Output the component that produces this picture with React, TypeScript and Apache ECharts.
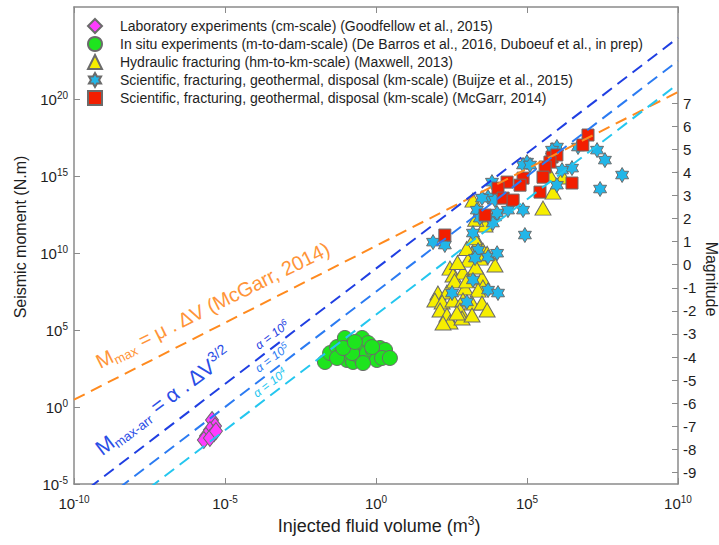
import React, { useEffect, useRef } from "react";
import * as echarts from "echarts";

const W = 719;
const H = 545;
const FONT = "Liberation Sans, Arial, sans-serif";

// All values are log10: volume in m^3, seismic moment in N.m
const labLogV = [-5.43, -5.33, -5.5, -5.63, -5.36, -5.7, -5.5, -5.3];
const labLogM = [-0.84, -1.23, -1.49, -1.88, -1.69, -2.14, -2.01, -1.56];

const insituLogV = [-1.69, -1.52, -1.29, -1.03, -0.46, -0.26, -0.86, -0.63, -1.13, -0.96, -0.76, -0.53, -0.3, -0.1, 0.13, 0.3, 0.03, 0.2, 0.46, -0.43, -1.29, -0.79, -0.13, -1.09, -0.7];
const insituLogM = [2.93, 3.51, 3.9, 4.49, 4.49, 4.16, 3.9, 3.71, 3.38, 3.06, 2.93, 3.25, 3.51, 3.71, 3.84, 3.71, 3.06, 3.19, 3.19, 2.86, 3.19, 3.51, 3.9, 3.84, 4.23];

const hfLogV = [3.61, 3.38, 3.54, 3.68, 3.44, 3.94, 3.05, 2.45, 2.55, 2.88, 3.18, 3.51, 3.54, 2.95, 3.38, 2.05, 2.35, 1.95, 2.19, 2.55, 2.88, 3.18, 3.51, 3.68, 2.78, 2.12, 2.35, 2.45, 2.22, 2.85, 3.18, 2.68, 5.53, 5.86, 6.19, 5.76, 3.21, 2.7, 3.0, 3.25, 3.3, 2.6, 3.0, 3.3];
const hfLogM = [11.83, 10.66, 10.2, 10.0, 9.68, 9.23, 9.55, 9.03, 8.58, 8.77, 8.45, 8.39, 7.8, 7.74, 7.6, 7.41, 7.48, 6.96, 6.83, 6.96, 6.96, 6.76, 6.76, 6.31, 6.31, 6.31, 5.98, 5.53, 5.46, 5.79, 5.98, 6.11, 12.93, 13.97, 14.95, 15.08, 13.45, 9.4, 10.3, 11.0, 12.2, 8.2, 8.2, 9.1];

const buijzeLogV = [5.99, 7.32, 7.58, 8.15, 7.42, 6.49, 6.16, 5.99, 5.0, 4.87, 5.1, 5.83, 3.71, 3.51, 3.34, 3.94, 4.37, 4.87, 3.94, 3.84, 3.44, 6.69, 3.87, 1.89, 2.28, 3.21, 4.01, 4.93, 3.38, 3.28, 3.71, 4.01, 3.21, 3.71, 4.04, 2.52, 3.01];
const buijzeLogM = [16.9, 16.7, 16.05, 15.08, 14.17, 15.53, 15.4, 14.42, 15.92, 15.73, 15.73, 16.7, 13.65, 13.58, 12.8, 13.45, 12.8, 12.8, 12.35, 14.62, 12.28, 16.9, 11.96, 10.72, 10.53, 11.31, 12.61, 11.18, 10.2, 9.68, 9.75, 10.0, 8.26, 7.6, 7.41, 7.41, 6.83];

const mcgarrLogV = [7.02, 6.85, 5.83, 5.99, 5.76, 5.6, 5.53, 6.49, 4.34, 4.87, 4.77, 4.04, 4.21, 4.54, 5.43, 3.61, 2.28];
const mcgarrLogM = [17.68, 17.03, 16.25, 16.38, 15.92, 15.6, 14.94, 14.56, 14.62, 14.88, 14.42, 14.23, 13.58, 13.45, 13.97, 12.48, 11.18];

// Bounds
const SHEAR_MODULUS = 3e10; // Pa
const ALPHA_EXPONENTS = [6, 5, 4];
const ALPHA_COLORS = ["#1f3fe2", "#2b7bf2", "#24c6ef"];

// Axis ticks
const xTickExps = [-10, -5, 0, 5, 10];
const yTickExps = [-5, 0, 5, 10, 15, 20];
const magTicks = [-9, -8, -7, -6, -5, -4, -3, -2, -1, 0, 1, 2, 3, 4, 5, 6, 7];

// Mw = 2/3 (log10 M0 - 9.25)
const MW_OFFSET = 9.25;
const Y_MIN = -5;
const Y_MAX = 26;

const legendNames = [
  "Laboratory experiments (cm-scale) (Goodfellow et al., 2015)",
  "In situ experiments (m-to-dam-scale) (De Barros et al., 2016, Duboeuf et al., in prep)",
  "Hydraulic fracturing (hm-to-km-scale) (Maxwell, 2013)",
  "Scientific, fracturing, geothermal, disposal (km-scale) (Buijze et al., 2015)",
  "Scientific, fracturing, geothermal, disposal (km-scale) (McGarr, 2014)",
];

const HEXAGRAM =
  "path://M0,-10L2.887,-5L8.66,-5L5.774,0L8.66,5L2.887,5L0,10L-2.887,5L-8.66,5L-5.774,0L-8.66,-5L-2.887,-5Z";

const EDGE = "#6b6b6b";
const AXIS_COLOR = "#8a8a8a";
const TEXT = "#1e1e1e";

const zip = (a: number[], b: number[]) => a.map((v, i) => [v, b[i]]);

const powRich = {
  b: { fontSize: 15, fontFamily: FONT, color: TEXT, lineHeight: 18 },
  s: { fontSize: 10, fontFamily: FONT, color: TEXT, verticalAlign: "top", lineHeight: 10 },
};
const powLabel = (v: number) => `{b|10}{s|${v}}`;

export default function App() {
  const ref = useRef<HTMLDivElement>(null);

  useEffect(() => {
    if (!ref.current) return;
    const chart = echarts.init(ref.current, null, { renderer: "svg", width: W, height: H });

    const scatterBase = (name: string, symbol: string, size: any, color: string, lv: number[], lm: number[], z: number) => ({
      name,
      type: "scatter",
      symbol,
      symbolSize: size,
      symbolKeepAspect: true,
      data: zip(lv, lm),
      itemStyle: { color, borderColor: EDGE, borderWidth: 1, opacity: 1 },
      z,
      silent: true,
    });

    const orangeLine = {
      name: "mcgarr-bound",
      type: "line",
      data: [
        [-10, -10 + Math.log10(SHEAR_MODULUS)],
        [10, 10 + Math.log10(SHEAR_MODULUS)],
      ],
      symbol: "none",
      lineStyle: { color: "#ff8a1e", width: 2, type: [12, 7] },
      z: 10,
      silent: true,
      clip: true,
    };

    const alphaLines = ALPHA_EXPONENTS.map((a, i) => ({
      name: `alpha-${a}`,
      type: "line",
      data: [
        [-10, 1.5 * (a - 10)],
        [10, 1.5 * (a + 10)],
      ],
      symbol: "none",
      lineStyle: { color: ALPHA_COLORS[i], width: 2, type: [12, 7] },
      z: 10,
      silent: true,
      clip: true,
    }));

    const alphaLabelPos = [
      [272, 335],
      [272, 358],
      [270, 383],
    ];

    const axisLineStyle = { color: AXIS_COLOR, width: 1.5 };

    const option: any = {
      animation: false,
      backgroundColor: "#ffffff",
      textStyle: { fontFamily: FONT },
      grid: { left: 74, right: 41, top: 7, bottom: 61, containLabel: false },
      legend: {
        orient: "vertical",
        left: 82,
        top: 13,
        itemWidth: 14,
        itemHeight: 14,
        itemGap: 2,
        data: legendNames,
        textStyle: { fontSize: 14, color: TEXT, fontFamily: FONT, lineHeight: 16, padding: [0, 0, 0, 13] },
        selectedMode: false,
      },
      xAxis: [
        {
          type: "value",
          min: -10,
          max: 10,
          interval: 5,
          position: "bottom",
          axisLine: { show: true, onZero: false, lineStyle: axisLineStyle },
          axisTick: { show: true, inside: true, length: 6, lineStyle: { color: AXIS_COLOR } },
          axisLabel: {
            customValues: xTickExps,
            formatter: powLabel,
            rich: powRich,
            margin: 10,
          },
          splitLine: { show: false },
        },
        {
          type: "value",
          min: -10,
          max: 10,
          interval: 5,
          position: "top",
          axisLine: { show: true, onZero: false, lineStyle: axisLineStyle },
          axisTick: { show: true, inside: true, length: 6, lineStyle: { color: AXIS_COLOR } },
          axisLabel: { show: false },
          splitLine: { show: false },
        },
      ],
      yAxis: [
        {
          type: "value",
          min: Y_MIN,
          max: Y_MAX,
          position: "left",
          axisLine: { show: true, onZero: false, lineStyle: axisLineStyle },
          axisTick: { show: true, inside: true, length: 6, customValues: yTickExps, lineStyle: { color: AXIS_COLOR } },
          axisLabel: {
            customValues: yTickExps,
            formatter: powLabel,
            rich: powRich,
            margin: 6,
          },
          splitLine: { show: false },
        },
        {
          type: "value",
          min: (2 / 3) * (Y_MIN - MW_OFFSET),
          max: (2 / 3) * (Y_MAX - MW_OFFSET),
          position: "right",
          axisLine: { show: true, onZero: false, lineStyle: axisLineStyle },
          axisTick: { show: true, inside: true, length: 6, customValues: magTicks, lineStyle: { color: AXIS_COLOR } },
          axisLabel: {
            customValues: magTicks,
            formatter: (v: number) => String(v),
            fontSize: 15,
            color: TEXT,
            fontFamily: FONT,
            margin: 5,
          },
          splitLine: { show: false },
        },
      ],
      series: [
        scatterBase(legendNames[0], "diamond", [13, 17], "#ff3cff", labLogV, labLogM, 2),
        scatterBase(legendNames[1], "circle", 15, "#1ee41e", insituLogV, insituLogM, 3),
        scatterBase(legendNames[2], "triangle", [16, 14], "#f6ee00", hfLogV, hfLogM, 4),
        scatterBase(legendNames[3], HEXAGRAM, 15, "#22b6e8", buijzeLogV, buijzeLogM, 5),
        scatterBase(legendNames[4], "rect", 12, "#f21e00", mcgarrLogV, mcgarrLogM, 6),
        orangeLine,
        ...alphaLines,
      ],
      graphic: [
        {
          type: "text",
          x: 379,
          y: 526,
          style: {
            text: "{t|Injected fluid volume (m}{s|3}{t|)}",
            align: "center",
            verticalAlign: "middle",
            rich: {
              t: { fontSize: 18, fontFamily: FONT, fill: TEXT, lineHeight: 22 },
              s: { fontSize: 12, fontFamily: FONT, fill: TEXT, verticalAlign: "top", lineHeight: 12 },
            },
          },
        },
        {
          type: "text",
          x: 20,
          y: 237,
          rotation: Math.PI / 2,
          style: {
            text: "Seismic moment (N.m)",
            align: "center",
            verticalAlign: "middle",
            fontSize: 16,
            fontFamily: FONT,
            fill: TEXT,
          },
        },
        {
          type: "text",
          x: 711,
          y: 279,
          rotation: -Math.PI / 2,
          style: {
            text: "Magnitude",
            align: "center",
            verticalAlign: "middle",
            fontSize: 16,
            fontFamily: FONT,
            fill: TEXT,
          },
        },
        {
          type: "text",
          x: 213,
          y: 305,
          rotation: (26.5 * Math.PI) / 180,
          z: 20,
          style: {
            text: "{m|M}{sub|max}{t| = μ . ΔV (McGarr, 2014)}",
            align: "center",
            verticalAlign: "middle",
            rich: {
              m: { fontSize: 20, fontFamily: FONT, fill: "#ff9438", lineHeight: 25 },
              sub: { fontSize: 13, fontFamily: FONT, fill: "#ff9438", verticalAlign: "bottom", lineHeight: 13 },
              t: { fontSize: 20, fontFamily: FONT, fill: "#ff9438", lineHeight: 25 },
            },
          },
        },
        {
          type: "text",
          x: 163,
          y: 401,
          rotation: (37 * Math.PI) / 180,
          z: 20,
          style: {
            text: "{m|M}{sub|max-arr}{t| = α . ΔV}{sup|3/2}",
            align: "center",
            verticalAlign: "middle",
            rich: {
              m: { fontSize: 21, fontFamily: FONT, fill: "#2a4ee6", lineHeight: 26 },
              sub: { fontSize: 13, fontFamily: FONT, fill: "#2a4ee6", verticalAlign: "bottom", lineHeight: 13 },
              t: { fontSize: 21, fontFamily: FONT, fill: "#2a4ee6", lineHeight: 26 },
              sup: { fontSize: 14, fontFamily: FONT, fill: "#2a4ee6", verticalAlign: "top", lineHeight: 14 },
            },
          },
        },
        ...ALPHA_EXPONENTS.map((a, i) => ({
          type: "text",
          x: alphaLabelPos[i][0],
          y: alphaLabelPos[i][1],
          rotation: (37 * Math.PI) / 180,
          z: 20,
          style: {
            text: `{t|α = 10}{s|${a}}`,
            align: "center",
            verticalAlign: "middle",
            rich: {
              t: { fontSize: 12, fontStyle: "italic", fontFamily: FONT, fill: ALPHA_COLORS[i], lineHeight: 15 },
              s: { fontSize: 9, fontStyle: "italic", fontFamily: FONT, fill: ALPHA_COLORS[i], verticalAlign: "top", lineHeight: 9 },
            },
          },
        })),
      ],
    };

    chart.setOption(option);
    return () => chart.dispose();
  }, []);

  return (
    <div
      ref={ref}
      style={{ position: "fixed", left: 0, top: 0, width: W, height: H, background: "#ffffff" }}
    />
  );
}
